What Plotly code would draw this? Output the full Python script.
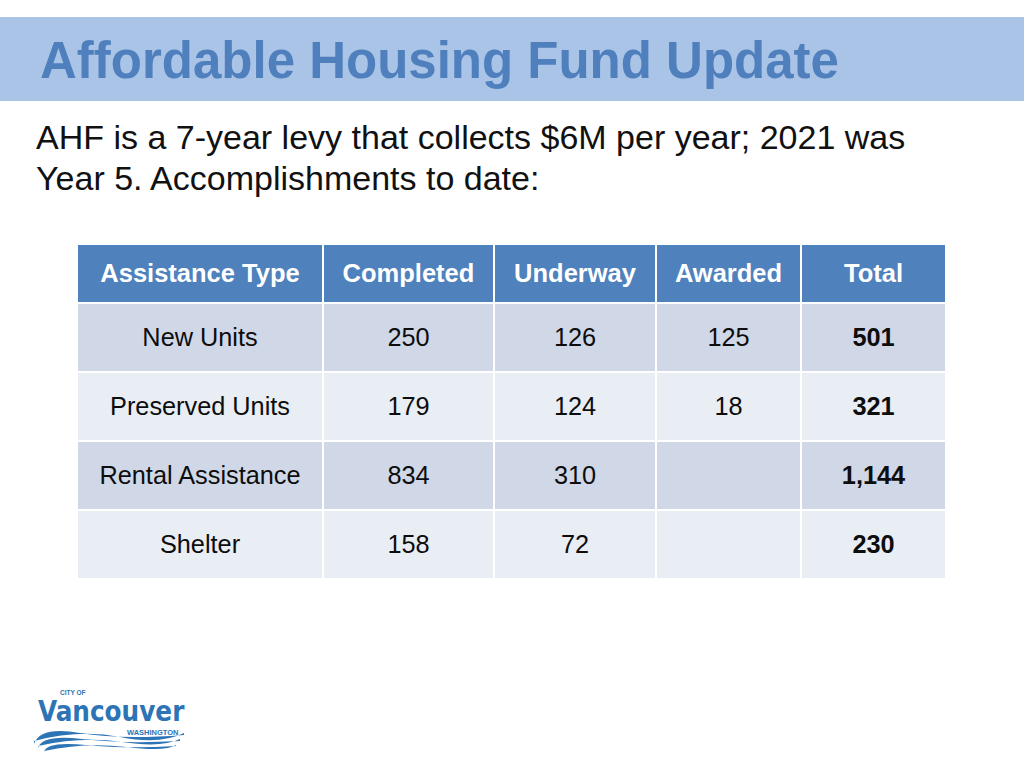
import plotly.graph_objects as go

title_text = "Affordable Housing Fund Update"
subtitle_lines = ["AHF is a 7-year levy that collects $6M per year; 2021 was",
                  "Year 5. Accomplishments to date:"]

headers = ["Assistance Type", "Completed", "Underway", "Awarded", "Total"]
assistance_types = ["New Units", "Preserved Units", "Rental Assistance", "Shelter"]
completed = [250, 179, 834, 158]
underway = [126, 124, 310, 72]
awarded = [125, 18, None, None]
total = [501, 321, 1144, 230]

W, H = 1024, 768
# table layout (pixels)
table_left, table_top = 77, 244
col_widths = [246, 171, 162, 145, 145]
row_heights = [59, 69, 69, 69, 69]
text_dy = 2  # small downward nudge of cell text (px)

header_color = "#4f81bd"
row_colors = ["#d0d8e8", "#e9edf4"]
font_family = "Liberation Sans, Arial, sans-serif"


def fmt(v):
    return "" if v is None else f"{v:,}"


body_columns = [
    assistance_types,
    [fmt(v) for v in completed],
    [fmt(v) for v in underway],
    [fmt(v) for v in awarded],
    [f"<b>{fmt(v)}</b>" for v in total],
]

x_edges = [0]
for w in col_widths:
    x_edges.append(x_edges[-1] + w)
y_edges = [0]
for h in row_heights:
    y_edges.append(y_edges[-1] + h)
table_w, table_h = x_edges[-1], y_edges[-1]

# color index per cell: 0 header, 1 odd row, 2 even row
z = [[0] * len(headers)] + [[1 + (r % 2)] * len(headers) for r in range(len(assistance_types))]
colorscale = [[0, header_color], [1 / 3, header_color],
              [1 / 3, row_colors[0]], [2 / 3, row_colors[0]],
              [2 / 3, row_colors[1]], [1, row_colors[1]]]

fig = go.Figure()
fig.add_trace(go.Heatmap(
    x=x_edges, y=y_edges, z=z, zmin=0, zmax=2,
    colorscale=colorscale, showscale=False,
    xgap=2, ygap=2, hoverinfo="skip",
))

# cell texts
tx, ty, tt, tcol, tsize = [], [], [], [], []
for c, h in enumerate(headers):
    tx.append((x_edges[c] + x_edges[c + 1]) / 2)
    ty.append((y_edges[0] + y_edges[1]) / 2 + text_dy)
    tt.append(f"<b>{h}</b>")
    tcol.append("white")
    tsize.append(25.5)
for r in range(len(assistance_types)):
    for c in range(len(headers)):
        tx.append((x_edges[c] + x_edges[c + 1]) / 2)
        ty.append((y_edges[r + 1] + y_edges[r + 2]) / 2 + text_dy)
        tt.append(body_columns[c][r])
        tcol.append("#0d0d0d")
        tsize.append(25.3)

fig.add_trace(go.Scatter(
    x=tx, y=ty, text=tt, mode="text", textposition="middle center",
    textfont=dict(family=font_family, size=tsize, color=tcol),
    hoverinfo="skip", showlegend=False,
))

fig.update_xaxes(visible=False, range=[0, table_w], fixedrange=True,
                 domain=[table_left / W, (table_left + table_w) / W])
fig.update_yaxes(visible=False, range=[table_h, 0], fixedrange=True,
                 domain=[1 - (table_top + table_h) / H, 1 - table_top / H])

logo_color = "#2c74b5"
shapes = [
    dict(type="rect", xref="paper", yref="paper", x0=0, x1=1,
         y0=1 - 101 / H, y1=1 - 17 / H, fillcolor="#a9c4e7", line=dict(width=0), layer="below"),
]


def px(x):
    return x / W


def py(y):
    return 1 - y / H


wave_paths = [
    [(34, 741), (80, 729), (120, 737), (184, 733), (184, 735), (120, 740), (80, 733), (34, 744)],
    [(38, 746), (82, 736), (122, 742), (180, 739), (180, 741), (122, 744), (82, 739), (38, 748)],
    [(44, 751), (86, 742), (126, 747), (176, 745), (176, 746), (126, 749), (86, 745), (44, 752)],
]
for wp in wave_paths:
    p = wp
    path = (f"M {px(p[0][0])},{py(p[0][1])} Q {px(p[1][0])},{py(p[1][1])} {px(p[2][0])},{py(p[2][1])} "
            f"T {px(p[3][0])},{py(p[3][1])} L {px(p[4][0])},{py(p[4][1])} "
            f"Q {px(p[5][0])},{py(p[5][1])} {px(p[6][0])},{py(p[6][1])} T {px(p[7][0])},{py(p[7][1])} Z")
    shapes.append(dict(type="path", xref="paper", yref="paper", path=path,
                       fillcolor=logo_color, line=dict(width=0)))

annotations = [
    dict(text=f"<b>{title_text}</b>", x=px(38), y=py(60), xref="paper", yref="paper",
         xanchor="left", yanchor="middle", showarrow=False,
         font=dict(family=font_family, size=51, color="#4f7fbc")),
    dict(text=subtitle_lines[0], x=px(34), y=py(137), xref="paper", yref="paper",
         xanchor="left", yanchor="middle", showarrow=False,
         font=dict(family=font_family, size=34, color="#111111")),
    dict(text=subtitle_lines[1], x=px(34), y=py(178), xref="paper", yref="paper",
         xanchor="left", yanchor="middle", showarrow=False,
         font=dict(family=font_family, size=34, color="#111111")),
    dict(text="<b>CITY OF</b>", x=px(58), y=py(692), xref="paper", yref="paper",
         xanchor="left", yanchor="middle", showarrow=False,
         font=dict(family=font_family, size=6.5, color=logo_color)),
    dict(text="<b>Vancouver</b>", x=px(111), y=py(711), xref="paper", yref="paper",
         xanchor="center", yanchor="middle", showarrow=False,
         font=dict(family="Liberation Sans Narrow, DejaVu Sans Condensed, sans-serif",
                   size=27.5, color=logo_color)),
    dict(text="<b>WASHINGTON</b>", x=px(181), y=py(732), xref="paper", yref="paper",
         xanchor="right", yanchor="middle", showarrow=False,
         font=dict(family=font_family, size=7.5, color=logo_color)),
]

fig.update_layout(
    width=W, height=H,
    margin=dict(l=0, r=0, t=0, b=0),
    paper_bgcolor="white", plot_bgcolor="white",
    shapes=shapes, annotations=annotations,
    showlegend=False,
)

fig.write_html("out.html", config={"displayModeBar": False},
               post_script="document.body.style.margin='0px';")
